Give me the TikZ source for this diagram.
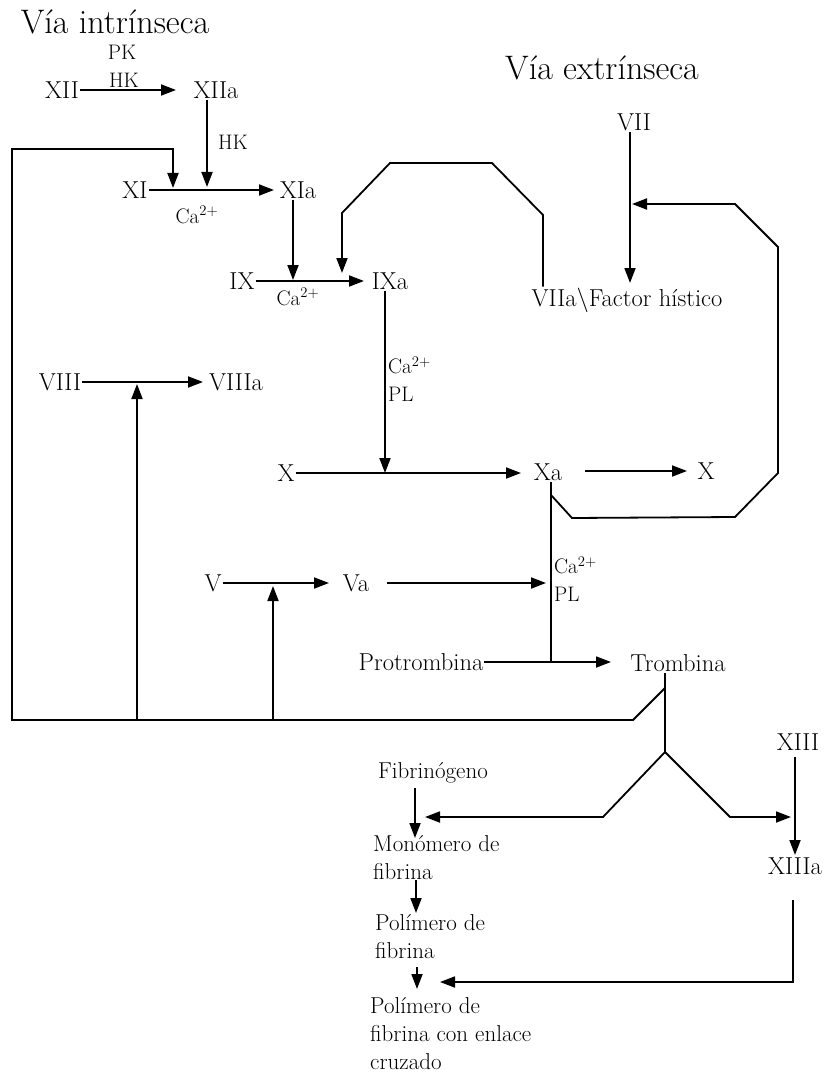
\documentclass[tikz,border=0pt]{standalone}
\usetikzlibrary{arrows.meta}
\begin{document}
\begin{tikzpicture}[x=1pt,y=-1pt,
 lbl/.style={font=\fontsize{24.5}{28}\selectfont, inner sep=1pt},
 ttl/.style={font=\fontsize{34}{40}\selectfont, inner sep=0pt},
 sm/.style={font=\fontsize{21}{28}\selectfont, inner sep=1pt},
 fib/.style={font=\fontsize{23}{28}\selectfont, align=left, inner sep=0pt, anchor=north west},
 ln/.style={line width=1.8pt, line join=miter},
 arr/.style={ln, -{Triangle[length=15pt,width=11pt]}}]
\useasboundingbox (0,0) rectangle (825,1083);
% titles
\node[ttl] (t1) at (115,22) {Vía intrínseca};
\node[ttl] (t2) at (602,68) {Vía extrínseca};
% nodes
\node[lbl] (XII) at (62,90) {XII};
\node[lbl] (XIIa) at (216,90) {XIIa};
\node[sm] (PK) at (122,52) {PK};
\node[sm] (HK1) at (124,80) {HK};
\node[sm] (HK2) at (233,142) {HK};
\node[lbl] (XI) at (135,190) {XI};
\node[lbl] (XIa) at (298,190) {XIa};
\node[sm] (Ca1) at (197,215) {Ca\textsuperscript{2+}};
\node[lbl] (IX) at (242,281) {IX};
\node[lbl] (IXa) at (390,281) {IXa};
\node[sm] (Ca2) at (298,297) {Ca\textsuperscript{2+}};
\node[lbl] (VII) at (634,122) {VII};
\node[lbl] (VIIa) at (627,300) {VIIa\textbackslash Factor hístico};
\node[sm, anchor=west, align=left] (CaPL1) at (387,379) {Ca\textsuperscript{2+}\\PL};
\node[lbl] (VIII) at (60,382) {VIII};
\node[lbl] (VIIIa) at (236,382) {VIIIa};
\node[lbl] (X1) at (286,473) {X};
\node[lbl] (Xa) at (548,472) {Xa};
\node[lbl] (X2) at (706,471) {X};
\node[lbl] (V) at (213,583) {V};
\node[lbl] (Va) at (356,583) {Va};
\node[sm, anchor=west, align=left] (CaPL2) at (553,579) {Ca\textsuperscript{2+}\\PL};
\node[lbl] (Prot) at (421,662) {Protrombina};
\node[lbl] (Trom) at (678,663) {Trombina};
\node[lbl] (XIII) at (798,742) {XIII};
\node[lbl] (XIIIa) at (795,866) {XIIIa};
\node[fib, anchor=center] (Fib) at (433,773) {Fibrinógeno};
\node[fib] (Mon) at (373,835) {Monómero de\\fibrina};
\node[fib] (Pol1) at (375,914) {Polímero de\\fibrina};
\node[fib] (Pol2) at (370,997) {Polímero de\\fibrina con enlace\\cruzado};
% coordinates
\coordinate (c1) at (176,90);
\coordinate (c2) at (207,187);
\coordinate (c3) at (274,190);
\coordinate (c4) at (293,280);
\coordinate (c5) at (364,281);
\coordinate (v1) at (543,215);
\coordinate (c7) at (630,283);
\coordinate (c8) at (385,473);
\coordinate (c9) at (521,473);
\coordinate (xs) at (585,471);
\coordinate (xt) at (687,471);
\coordinate (xv) at (551,662);
\coordinate (xd) at (551,495);
\coordinate (tb) at (665,688);
\coordinate (split) at (665,752);
% connectors
\draw[arr] (XII) -- (c1);
\draw[arr] (c2 |- XIIa.south) -- (c2);
\draw[arr] (XI) -- (c3);
\draw[arr] (c4 |- XIa.south) -- (c4);
\draw[arr] (IX) -- (c5);
\draw[arr] (v1 |- VIIa.north) -- (v1) -- (492,163) -- (390,163) -- (342,213) -- (342,273);
\draw[arr] (c7 |- VII.south) -- (c7);
\draw[arr] (c8 |- IXa.south) -- (c8);
\draw[arr] (X1) -- (c9);
\draw[arr] (xs) -- (xt);
\draw[ln] (xv |- Xa.south) -- (xv);
\draw[arr] (xd) -- (572,518) -- (735,517) -- (778,473) -- (778,247) -- (735,204) -- (632,204);
\draw[arr] (VIII) -- (203,382);
\draw[arr] (V) -- (329,583);
\draw[arr] (387,583) -- (546,583);
\draw[arr] (Prot) -- (611,662);
\draw[ln] (split |- Trom.south) -- (split);
\draw[arr] (tb) -- (633,720) -- (12,720) -- (12,149) -- (173,149) -- (173,188);
\draw[arr] (137,720) -- (137,384);
\draw[arr] (273,720) -- (273,586);
\draw[arr] (split) -- (603,817) -- (425,817);
\draw[arr] (split) -- (730,817) -- (791,817);
\draw[arr] (795,757) -- (795,855);
\draw[arr] (793,900) -- (793,982) -- (440,982);
\draw[arr] (415,788) -- (415,838);
\draw[arr] (416,880) -- (416,913);
\draw[arr] (417,967) -- (417,989);
\end{tikzpicture}
\end{document}
